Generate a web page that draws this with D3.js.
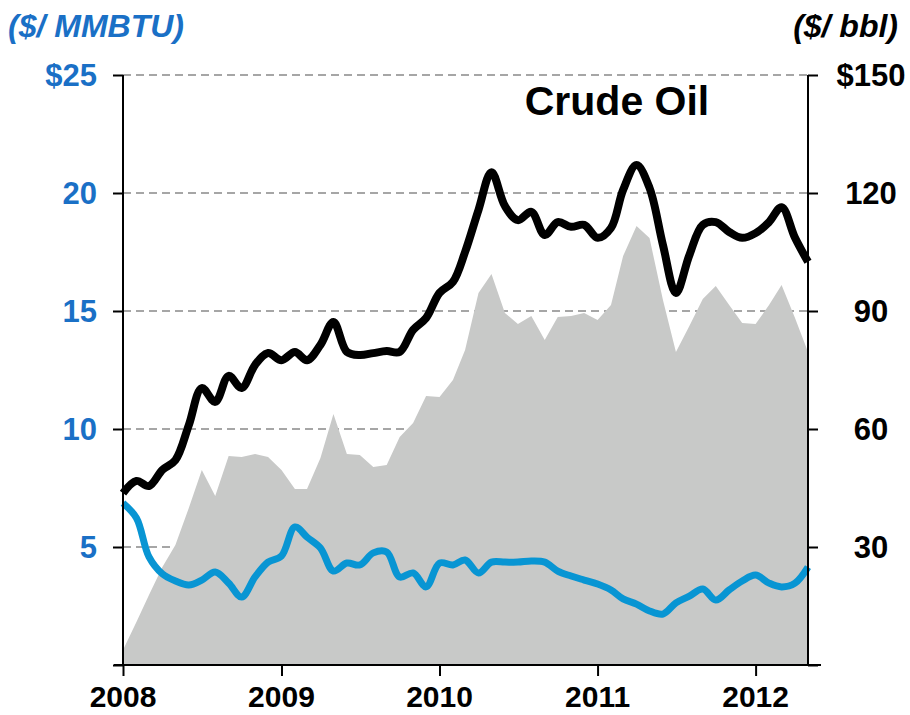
<!DOCTYPE html>
<html>
<head>
<meta charset="utf-8">
<script src="https://cdn.jsdelivr.net/npm/d3@7"></script>
<style>
  body { margin: 0; background: #fff; }
  svg { display: block; font-family: Arial, "Liberation Sans", sans-serif; }
</style>
</head>
<body>
<script>
// monthly, Jan 2008 .. May 2012
var startMonth = new Date(2008, 0, 1),
  endMonth = new Date(2012, 4, 1);
var months = d3.timeMonth.range(startMonth, d3.timeMonth.offset(endMonth, 1));

// crude oil, $/bbl (right axis)
var oil = [43.7, 46.8, 45.5, 49.6, 52.1, 61.0, 70.4, 66.9, 73.5, 70.4, 76.3, 79.3,
  77.5, 79.6, 77.5, 81.4, 87.2, 79.6, 78.8, 79.3, 79.8, 79.6, 85.2, 88.2,
  94.6, 97.4, 105.0, 115.7, 125.3, 116.7, 113.1, 115.2, 109.3, 112.6, 111.4, 111.9,
  108.6, 111.1, 120.8, 127.1, 121.3, 106.8, 94.6, 104.2, 111.9, 112.6, 110.1, 108.6,
  109.8, 112.6, 116.4, 108.6, 102.5];

// natural gas, $/MMBTU (left axis)
var gas = [6.86, 6.23, 4.58, 3.86, 3.56, 3.39, 3.60, 3.94, 3.47, 2.88, 3.73, 4.36,
  4.62, 5.85, 5.42, 4.96, 3.98, 4.32, 4.24, 4.75, 4.79, 3.73, 3.90, 3.31,
  4.32, 4.24, 4.45, 3.90, 4.36, 4.36, 4.36, 4.41, 4.36, 3.98, 3.77, 3.60,
  3.43, 3.18, 2.80, 2.58, 2.29, 2.16, 2.63, 2.92, 3.22, 2.75, 3.18, 3.56,
  3.81, 3.47, 3.31, 3.47, 4.15];

// spread, $/MMBTU (grey area, left axis)
var spread = [0.64, 1.82, 2.97, 4.15, 5.08, 6.65, 8.26, 7.16, 8.86, 8.81, 8.94, 8.81,
  8.26, 7.46, 7.46, 8.77, 10.64, 8.94, 8.90, 8.39, 8.47, 9.66, 10.25, 11.40,
  11.36, 12.08, 13.35, 15.76, 16.57, 14.92, 14.45, 14.79, 13.77, 14.75, 14.79, 14.92,
  14.62, 15.25, 17.33, 18.60, 18.09, 15.47, 13.26, 14.36, 15.51, 16.06, 15.25, 14.49,
  14.45, 15.25, 16.10, 14.70, 13.26];

var leftTicks = [5, 10, 15, 20, 25];
var rightTicks = [30, 60, 90, 120, 150];
var yearTicks = [2008, 2009, 2010, 2011, 2012];

var width = 910, height = 715;
var margin = { top: 75, right: 102, bottom: 50, left: 123 };

var blueText = "#1a70c6", blueLine = "#0895d3", grey = "#c8c9c8";

var svg = d3.select("body").append("svg")
  .attr("width", width)
  .attr("height", height);

var x = d3.scaleTime()
  .domain([startMonth, endMonth])
  .range([margin.left, width - margin.right]);

var yL = d3.scaleLinear()
  .domain([0, 25])
  .range([height - margin.bottom, margin.top]);

var yR = d3.scaleLinear()
  .domain([0, 150])
  .range([height - margin.bottom, margin.top]);

var x0 = margin.left, x1 = width - margin.right, yBase = yL(0);

// gridlines
svg.append("g")
  .selectAll("line")
  .data(leftTicks)
  .enter().append("line")
  .attr("x1", x0).attr("x2", x1)
  .attr("y1", function(d) { return yL(d); })
  .attr("y2", function(d) { return yL(d); })
  .style("stroke", "#a6a6a6")
  .style("stroke-width", 2)
  .style("stroke-dasharray", "8,5");

// grey area
var area = d3.area()
  .x(function(d, i) { return x(months[i]); })
  .y0(yBase)
  .y1(function(d) { return yL(d); });

svg.append("path")
  .datum(spread)
  .attr("d", area)
  .style("fill", grey);

// lines
var oilLine = d3.line()
  .x(function(d, i) { return x(months[i]); })
  .y(function(d) { return yR(d); })
  .curve(d3.curveCatmullRom);

var gasLine = d3.line()
  .x(function(d, i) { return x(months[i]); })
  .y(function(d) { return yL(d); })
  .curve(d3.curveCatmullRom);

svg.append("path")
  .datum(gas)
  .attr("d", gasLine)
  .style("fill", "none")
  .style("stroke", blueLine)
  .style("stroke-width", 7)
  .style("stroke-linejoin", "round");

svg.append("path")
  .datum(oil)
  .attr("d", oilLine)
  .style("fill", "none")
  .style("stroke", "#000")
  .style("stroke-width", 8)
  .style("stroke-linejoin", "round");

// axes
var axisStyle = function(g) {
  g.select(".domain").remove();
  g.selectAll(".tick line").style("stroke", "#000").style("stroke-width", 2);
  g.selectAll(".tick text").remove();
};

svg.append("g")
  .attr("transform", "translate(" + x0 + ",0)")
  .call(d3.axisLeft(yL).tickValues([0].concat(leftTicks)).tickSize(10))
  .call(axisStyle);

svg.append("g")
  .attr("transform", "translate(" + x1 + ",0)")
  .call(d3.axisRight(yR).tickValues([0].concat(rightTicks)).tickSize(10))
  .call(axisStyle);

var yearDates = yearTicks.map(function(y) { return new Date(y, 0, 1); });

svg.append("g")
  .attr("transform", "translate(0," + yBase + ")")
  .call(d3.axisBottom(x).tickValues(yearDates).tickSize(11))
  .call(axisStyle);

svg.append("line")
  .attr("x1", x0).attr("x2", x0)
  .attr("y1", margin.top).attr("y2", yBase)
  .style("stroke", "#000").style("stroke-width", 2);

svg.append("line")
  .attr("x1", x1).attr("x2", x1)
  .attr("y1", margin.top).attr("y2", yBase)
  .style("stroke", "#000").style("stroke-width", 2);

svg.append("line")
  .attr("x1", x0 - 9).attr("x2", x1 + 13)
  .attr("y1", yBase).attr("y2", yBase)
  .style("stroke", "#000").style("stroke-width", 2);

// tick labels
svg.append("g").selectAll("text")
  .data(leftTicks)
  .enter().append("text")
  .attr("x", 97)
  .attr("y", function(d) { return yL(d) + 11; })
  .attr("text-anchor", "end")
  .style("font-size", "31px")
  .style("font-weight", "bold")
  .style("fill", blueText)
  .text(function(d) { return d === 25 ? "$" + d : d; });

svg.append("g").selectAll("text")
  .data(rightTicks)
  .enter().append("text")
  .attr("x", 871)
  .attr("y", function(d) { return yR(d) + 11; })
  .attr("text-anchor", "middle")
  .style("font-size", "31px")
  .style("font-weight", "bold")
  .style("fill", "#000")
  .text(function(d) { return d === 150 ? "$" + d : d; });

svg.append("g").selectAll("text")
  .data(yearDates)
  .enter().append("text")
  .attr("x", function(d) { return x(d); })
  .attr("y", 707)
  .attr("text-anchor", "middle")
  .style("font-size", "30px")
  .style("font-weight", "bold")
  .style("fill", "#000")
  .text(function(d) { return d.getFullYear(); });

// unit headers and title
svg.append("text")
  .attr("x", 8).attr("y", 37)
  .style("font-size", "32px")
  .style("font-weight", "bold")
  .style("font-style", "italic")
  .style("fill", blueText)
  .text("($/ MMBTU)");

svg.append("text")
  .attr("x", 898).attr("y", 37)
  .attr("text-anchor", "end")
  .style("font-size", "32px")
  .style("font-weight", "bold")
  .style("font-style", "italic")
  .style("fill", "#000")
  .text("($/ bbl)");

svg.append("text")
  .attr("x", 617).attr("y", 115)
  .attr("text-anchor", "middle")
  .style("font-size", "41px")
  .style("font-weight", "bold")
  .style("fill", "#000")
  .text("Crude Oil");
</script>
</body>
</html>
